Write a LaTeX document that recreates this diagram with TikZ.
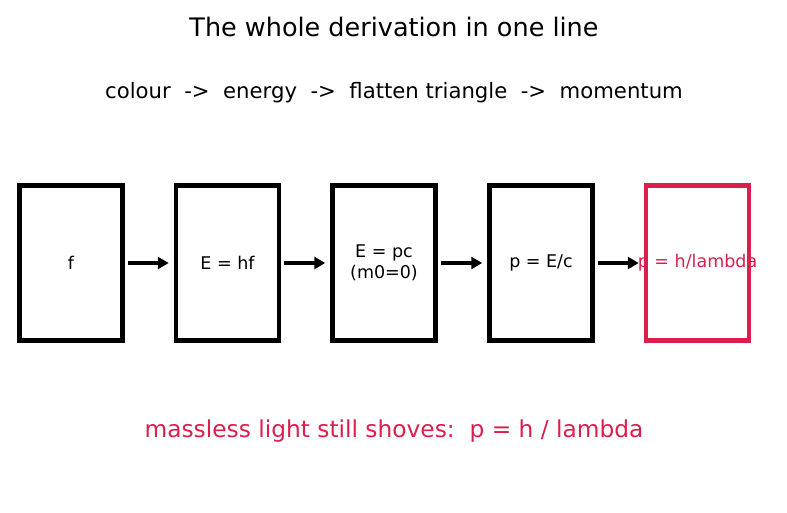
\documentclass[tikz,border=0pt]{standalone}
\usepackage{fontspec}
\setmainfont{DejaVu Sans}
\usetikzlibrary{arrows.meta}
\definecolor{accent}{RGB}{220,30,78}
\begin{document}
\begin{tikzpicture}[x=1pt,y=-1pt,
  stagebox/.style={draw=black,line width=4.5pt,minimum width=103pt,minimum height=155pt,inner sep=0pt,font=\fontsize{17.5}{21}\selectfont,align=center},
  flow/.style={-{Triangle[length=11pt,width=12pt]},line width=3.5pt}]
\useasboundingbox (0,0) rectangle (787,512);
\node (title) at (394,27) {\fontsize{25.5}{30}\selectfont The whole derivation in one line};
\node (sub) at (394,93) {\fontsize{21.2}{25}\selectfont colour\ \ ->\ \ energy\ \ ->\ \ flatten triangle\ \ ->\ \ momentum};
\node[stagebox] (b1) at (71,263) {f};
\node[stagebox] (b2) at (227.5,263) {E = hf};
\node[stagebox] (b3) at (384,263) {E = pc\\(m0=0)};
\node[stagebox] (b4) at (541,263) {p = E/c};
\node[stagebox,draw=accent,text=accent] (b5) at (697.5,263) {\makebox[0pt]{p = h/lambda}};
\draw[flow] ([xshift=3pt]b1.east) -- ([xshift=-5pt]b2.west);
\draw[flow] ([xshift=3pt]b2.east) -- ([xshift=-5pt]b3.west);
\draw[flow] ([xshift=3pt]b3.east) -- ([xshift=-5pt]b4.west);
\draw[flow] ([xshift=3pt]b4.east) -- ([xshift=-5pt]b5.west);
\node[text=accent] (note) at (394,431) {\fontsize{23.3}{28}\selectfont massless light still shoves:\ \ p = h / lambda};
\end{tikzpicture}
\end{document}
